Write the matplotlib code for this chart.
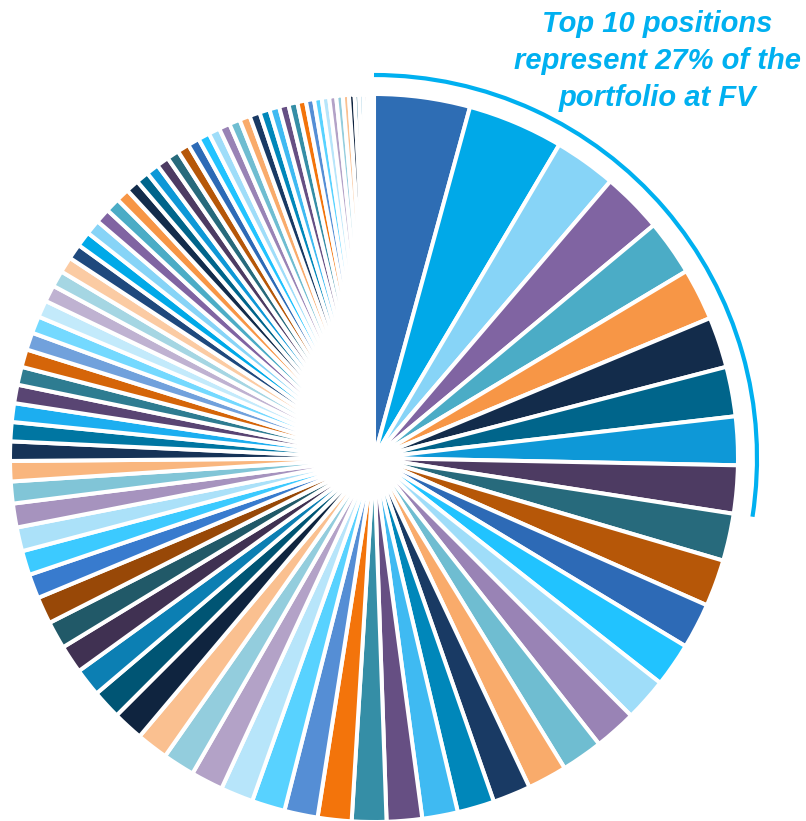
import colorsys
import matplotlib.pyplot as plt
from matplotlib.colors import to_rgb
from matplotlib.patches import Arc

# share of the portfolio at fair value, one entry per position, largest first (%)
top10 = [4.25, 4.25, 2.75, 2.70, 2.47, 2.30, 2.25, 2.20, 2.15, 2.13]
others = [2.10, 2.08, 2.02, 1.95, 1.92, 1.87, 1.84, 1.75, 1.68, 1.64, 1.58,
          1.57, 1.53, 1.50, 1.48, 1.47, 1.45, 1.43, 1.42, 1.41,
          1.36, 1.30, 1.25, 1.25, 1.22, 1.20, 1.08, 1.08, 1.06, 1.06, 0.97, 0.90,
          0.86, 0.85, 0.83, 0.82, 0.80, 0.79, 0.77, 0.76, 0.75, 0.74, 0.72, 0.70,
          0.68, 0.67, 0.66, 0.65, 0.64,
          0.59, 0.58, 0.57, 0.56, 0.55, 0.54, 0.53, 0.52, 0.51, 0.50, 0.49, 0.48,
          0.47, 0.46, 0.45, 0.44, 0.42, 0.40,
          0.38, 0.36, 0.34, 0.33, 0.31, 0.29, 0.27, 0.25,
          0.20, 0.19, 0.18, 0.16, 0.12]
weights = top10 + others

# theme accents and the (lumMod, lumOff) steps cycled through after them
accents = ["#1F497D", "#00A9E8", "#87D4F7", "#8064A2", "#4BACC6", "#F79646"]
shades = [(1.0, 0.0), (0.6, 0.0), (0.8, 0.2), (0.8, 0.0), (0.6, 0.4),
          (0.5, 0.0), (0.7, 0.3), (0.7, 0.0), (0.5, 0.5)]
first_color = "#2E6DB4"
highlight = "#00B0F0"


def shade(hex_color, mod, off):
    h, l, s = colorsys.rgb_to_hls(*to_rgb(hex_color))
    return colorsys.hls_to_rgb(h, min(1.0, l * mod + off), s)


colors = [shade(accents[i % 6], *shades[(i // 6) % 9]) for i in range(len(weights))]
colors[0] = first_color

W, H = 806, 821
cx, cy, R = 374, H - 458, 364

fig = plt.figure(figsize=(W / 100, H / 100), dpi=100)
ax = fig.add_axes([0, 0, 1, 1])

ax.pie(weights, colors=colors, startangle=90, counterclock=False,
       center=(cx, cy), radius=R,
       wedgeprops=dict(edgecolor="white", linewidth=2.9))

# bracket around the ten largest positions
share = sum(top10) / sum(weights)
ax.add_patch(Arc((cx, cy), 2 * 383, 2 * 383, theta1=90 - 360 * share, theta2=90,
                 color=highlight, lw=3))

ax.text(657, H - 61,
        f"Top 10 positions\nrepresent {round(share * 100)}% of the\nportfolio at FV",
        ha="center", va="center", fontsize=21, fontweight="bold",
        fontstyle="italic", color=highlight, family="Liberation Sans",
        linespacing=1.42)

ax.set_xlim(0, W)
ax.set_ylim(0, H)
ax.set_aspect("equal")
ax.axis("off")

fig.savefig("out.png", dpi=100)
